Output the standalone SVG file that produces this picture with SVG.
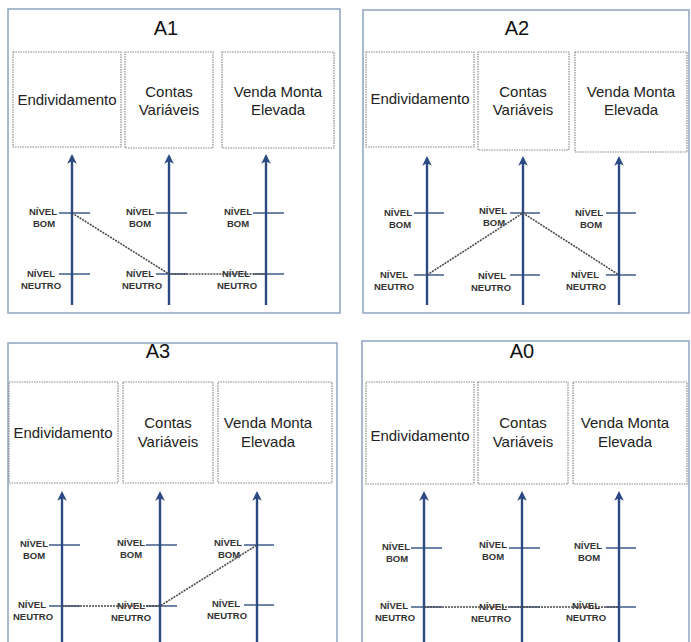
<svg xmlns="http://www.w3.org/2000/svg" width="691" height="642" viewBox="0 0 691 642">
  <style>
    .panel { fill: #ffffff; stroke: #8ea3c4; stroke-width: 1.5; }
    .box { fill: #ffffff; stroke: #8a8a8a; stroke-width: 1.2; stroke-dasharray: 1.5 1; }
    .title { font-family: "Liberation Sans", Arial, sans-serif; font-size: 20px; fill: #111; text-anchor: middle; }
    .lbl { font-family: "Liberation Sans", Arial, sans-serif; font-size: 15px; fill: #222; text-anchor: middle; }
    .lvl { font-family: "Liberation Sans", Arial, sans-serif; font-size: 9.5px; font-weight: bold; fill: #333; text-anchor: middle; }
    .axis { stroke: #2c4a82; stroke-width: 2.4; fill: none; }
    .tick { stroke: #6e84a8; stroke-width: 2; }
    .path { stroke: #4a4a4a; stroke-width: 1.6; stroke-dasharray: 2 1; fill: none; }
  </style>
  <defs>
    <!-- arrowhead drawn along +x, rotated to each axis direction -->
    <marker id="head" viewBox="0 0 10 10" refX="7" refY="5" markerWidth="4" markerHeight="4" orient="auto" markerUnits="strokeWidth">
      <path d="M0,0 L10,5 L0,10 L2.5,5 Z" fill="#2c4a82"/>
    </marker>
  </defs>
  <rect width="691" height="642" fill="#ffffff"/>

  <!-- Panel A1 -->
  <g id="panelA1">
    <rect class="panel" x="8" y="9" width="332" height="304"/>
    <text class="title" x="166" y="35">A1</text>
    <g id="a1-endividamento">
      <rect class="box" x="13" y="52" width="108" height="95"/>
      <text class="lbl" x="67" y="105">Endividamento</text>
    </g>
    <g id="a1-contas">
      <rect class="box" x="125" y="52" width="88" height="96"/>
      <text class="lbl" x="169" y="97">Contas</text>
      <text class="lbl" x="169" y="115">Variáveis</text>
    </g>
    <g id="a1-venda">
      <rect class="box" x="222" y="52" width="112" height="96"/>
      <text class="lbl" x="278" y="97">Venda Monta</text>
      <text class="lbl" x="278" y="115">Elevada</text>
    </g>
    <g id="a1-axes">
      <line class="tick" x1="59" y1="213" x2="90" y2="213"/>
      <line class="tick" x1="59" y1="274" x2="90" y2="274"/>
      <line class="tick" x1="156" y1="213" x2="187" y2="213"/>
      <line class="tick" x1="156" y1="274" x2="187" y2="274"/>
      <line class="tick" x1="253" y1="213" x2="284" y2="213"/>
      <line class="tick" x1="253" y1="274" x2="284" y2="274"/>
      <line class="axis" x1="72" y1="305" x2="72" y2="157" marker-end="url(#head)"/>
      <line class="axis" x1="169" y1="305" x2="169" y2="157" marker-end="url(#head)"/>
      <line class="axis" x1="266" y1="305" x2="266" y2="157" marker-end="url(#head)"/>
    </g>
    <g id="a1-levels">
      <text class="lvl" x="43" y="215">NÍVEL</text><text class="lvl" x="44" y="227">BOM</text>
      <text class="lvl" x="41" y="277">NÍVEL</text><text class="lvl" x="41" y="289">NEUTRO</text>
      <text class="lvl" x="140" y="215">NÍVEL</text><text class="lvl" x="140" y="227">BOM</text>
      <text class="lvl" x="140" y="277">NÍVEL</text><text class="lvl" x="142" y="289">NEUTRO</text>
      <text class="lvl" x="238" y="215">NÍVEL</text><text class="lvl" x="238" y="227">BOM</text>
      <text class="lvl" x="236" y="277">NÍVEL</text><text class="lvl" x="237" y="289">NEUTRO</text>
    </g>
  </g>

  <!-- Panel A2 -->
  <g id="panelA2">
    <rect class="panel" x="363" y="10" width="326" height="303"/>
    <text class="title" x="517" y="35">A2</text>
    <g id="a2-endividamento">
      <rect class="box" x="366" y="52" width="108" height="95"/>
      <text class="lbl" x="420" y="104">Endividamento</text>
    </g>
    <g id="a2-contas">
      <rect class="box" x="478" y="52" width="91" height="98"/>
      <text class="lbl" x="523" y="97">Contas</text>
      <text class="lbl" x="523" y="115">Variáveis</text>
    </g>
    <g id="a2-venda">
      <rect class="box" x="575" y="52" width="112" height="100"/>
      <text class="lbl" x="631" y="97">Venda Monta</text>
      <text class="lbl" x="631" y="115">Elevada</text>
    </g>
    <g id="a2-axes">
      <line class="tick" x1="414" y1="213" x2="444" y2="213"/>
      <line class="tick" x1="414" y1="275" x2="444" y2="275"/>
      <line class="tick" x1="510" y1="213" x2="540" y2="213"/>
      <line class="tick" x1="510" y1="275" x2="540" y2="275"/>
      <line class="tick" x1="606" y1="213" x2="636" y2="213"/>
      <line class="tick" x1="606" y1="275" x2="636" y2="275"/>
      <line class="axis" x1="427" y1="305" x2="427" y2="159" marker-end="url(#head)"/>
      <line class="axis" x1="523" y1="305" x2="523" y2="159" marker-end="url(#head)"/>
      <line class="axis" x1="619" y1="305" x2="619" y2="159" marker-end="url(#head)"/>
    </g>
    <g id="a2-levels">
      <text class="lvl" x="398" y="216">NÍVEL</text><text class="lvl" x="400" y="228">BOM</text>
      <text class="lvl" x="394" y="278">NÍVEL</text><text class="lvl" x="394" y="290">NEUTRO</text>
      <text class="lvl" x="493" y="214">NÍVEL</text><text class="lvl" x="494" y="226">BOM</text>
      <text class="lvl" x="492" y="279">NÍVEL</text><text class="lvl" x="491" y="291">NEUTRO</text>
      <text class="lvl" x="589" y="216">NÍVEL</text><text class="lvl" x="591" y="228">BOM</text>
      <text class="lvl" x="585" y="278">NÍVEL</text><text class="lvl" x="586" y="290">NEUTRO</text>
    </g>
  </g>

  <!-- Panel A3 -->
  <g id="panelA3">
    <rect class="panel" x="8" y="343" width="329" height="310"/>
    <text class="title" x="158" y="358">A3</text>
    <g id="a3-endividamento">
      <rect class="box" x="9" y="382" width="109" height="101"/>
      <text class="lbl" x="63" y="438">Endividamento</text>
    </g>
    <g id="a3-contas">
      <rect class="box" x="123" y="382" width="90" height="101"/>
      <text class="lbl" x="168" y="428">Contas</text>
      <text class="lbl" x="168" y="447">Variáveis</text>
    </g>
    <g id="a3-venda">
      <rect class="box" x="218" y="382" width="114" height="101"/>
      <text class="lbl" x="268" y="428">Venda Monta</text>
      <text class="lbl" x="268" y="447">Elevada</text>
    </g>
    <g id="a3-axes">
      <line class="tick" x1="49" y1="545" x2="80" y2="545"/>
      <line class="tick" x1="49" y1="606" x2="80" y2="606"/>
      <line class="tick" x1="146" y1="545" x2="177" y2="545"/>
      <line class="tick" x1="146" y1="606" x2="177" y2="606"/>
      <line class="tick" x1="244" y1="545" x2="274" y2="545"/>
      <line class="tick" x1="244" y1="605" x2="274" y2="605"/>
      <line class="axis" x1="62" y1="645" x2="62" y2="494" marker-end="url(#head)"/>
      <line class="axis" x1="160" y1="645" x2="160" y2="494" marker-end="url(#head)"/>
      <line class="axis" x1="257" y1="645" x2="257" y2="494" marker-end="url(#head)"/>
    </g>
    <g id="a3-levels">
      <text class="lvl" x="34" y="547">NÍVEL</text><text class="lvl" x="34" y="559">BOM</text>
      <text class="lvl" x="32" y="608">NÍVEL</text><text class="lvl" x="33" y="620">NEUTRO</text>
      <text class="lvl" x="131" y="546">NÍVEL</text><text class="lvl" x="131" y="558">BOM</text>
      <text class="lvl" x="131" y="609">NÍVEL</text><text class="lvl" x="131" y="621">NEUTRO</text>
      <text class="lvl" x="228" y="546">NÍVEL</text><text class="lvl" x="229" y="558">BOM</text>
      <text class="lvl" x="226" y="607">NÍVEL</text><text class="lvl" x="227" y="619">NEUTRO</text>
    </g>
  </g>

  <!-- Panel A0 -->
  <g id="panelA0">
    <rect class="panel" x="362" y="341" width="327" height="312"/>
    <text class="title" x="522" y="358">A0</text>
    <g id="a0-endividamento">
      <rect class="box" x="366" y="382" width="108" height="102"/>
      <text class="lbl" x="420" y="441">Endividamento</text>
    </g>
    <g id="a0-contas">
      <rect class="box" x="478" y="382" width="90" height="102"/>
      <text class="lbl" x="523" y="428">Contas</text>
      <text class="lbl" x="523" y="447">Variáveis</text>
    </g>
    <g id="a0-venda">
      <rect class="box" x="573" y="382" width="114" height="102"/>
      <text class="lbl" x="625" y="428">Venda Monta</text>
      <text class="lbl" x="625" y="447">Elevada</text>
    </g>
    <g id="a0-axes">
      <line class="tick" x1="411" y1="548" x2="442" y2="548"/>
      <line class="tick" x1="411" y1="607" x2="442" y2="607"/>
      <line class="tick" x1="509" y1="548" x2="540" y2="548"/>
      <line class="tick" x1="509" y1="607" x2="540" y2="607"/>
      <line class="tick" x1="606" y1="548" x2="636" y2="548"/>
      <line class="tick" x1="606" y1="607" x2="636" y2="607"/>
      <line class="axis" x1="424" y1="645" x2="424" y2="494" marker-end="url(#head)"/>
      <line class="axis" x1="522" y1="645" x2="522" y2="494" marker-end="url(#head)"/>
      <line class="axis" x1="619" y1="645" x2="619" y2="494" marker-end="url(#head)"/>
    </g>
    <g id="a0-levels">
      <text class="lvl" x="396" y="550">NÍVEL</text><text class="lvl" x="397" y="562">BOM</text>
      <text class="lvl" x="394" y="609">NÍVEL</text><text class="lvl" x="395" y="621">NEUTRO</text>
      <text class="lvl" x="493" y="548">NÍVEL</text><text class="lvl" x="493" y="560">BOM</text>
      <text class="lvl" x="493" y="610">NÍVEL</text><text class="lvl" x="491" y="622">NEUTRO</text>
      <text class="lvl" x="588" y="549">NÍVEL</text><text class="lvl" x="589" y="561">BOM</text>
      <text class="lvl" x="586" y="609">NÍVEL</text><text class="lvl" x="586" y="621">NEUTRO</text>
    </g>
  </g>

  <!-- level profile connectors -->
  <g id="connectors">
    <polyline class="path" points="72,213 169,274 266,274"/>
    <polyline class="path" points="427,275 523,213 619,275"/>
    <polyline class="path" points="62,606 160,606 257,545"/>
    <polyline class="path" points="424,607 522,607 619,607"/>
  </g>
</svg>
